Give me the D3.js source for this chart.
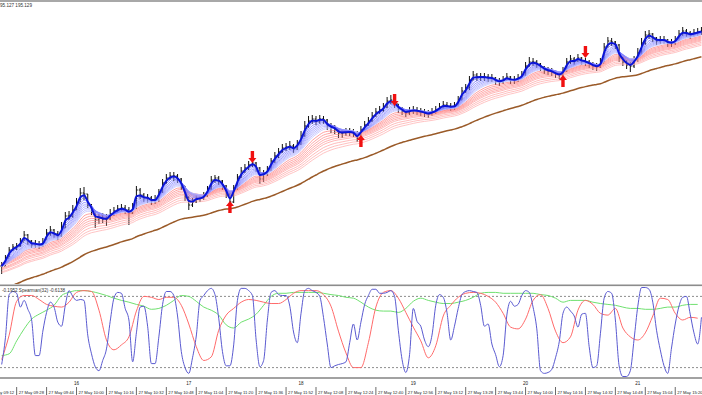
<!DOCTYPE html>
<html>
<head>
<meta charset="utf-8">
<title>GBPJPY M1</title>
<script src="https://d3js.org/d3.v7.min.js"></script>
<style>
    body { margin: 0; background: #fff; }
    svg { display: block; font-family: "Liberation Sans", Arial, sans-serif; }
</style>
</head>
<body>
<script>
// price bars, one every 2 minutes starting 09:20
const firstBar = '09:20';
const barStep = 2;
const closes = [
    195.034,195.042,195.050,195.053,195.054,195.058,195.065,195.059,195.055,195.056,
    195.055,195.057,195.067,195.070,195.066,195.064,195.072,195.084,195.084,195.090,
    195.097,195.107,195.106,195.095,195.089,195.080,195.082,195.081,195.081,195.086,
    195.089,195.091,195.092,195.090,195.087,195.092,195.110,195.105,195.102,195.102,
    195.099,195.100,195.108,195.117,195.122,195.124,195.124,195.121,195.114,195.103,
    195.095,195.098,195.102,195.102,195.104,195.111,195.120,195.122,195.119,195.114,
    195.106,195.098,195.112,195.123,195.129,195.132,195.135,195.137,195.132,195.121,
    195.126,195.130,195.139,195.144,195.148,195.152,195.153,195.154,195.151,195.156,
    195.164,195.174,195.179,195.181,195.179,195.181,195.180,195.174,195.172,195.171,
    195.167,195.167,195.168,195.168,195.167,195.162,195.170,195.175,195.179,195.184,
    195.188,195.190,195.193,195.199,195.200,195.196,195.191,195.189,195.187,195.189,
    195.190,195.189,195.188,195.187,195.186,195.188,195.190,195.193,195.195,195.194,
    195.193,195.194,195.200,195.209,195.212,195.220,195.225,195.223,195.223,195.223,
    195.222,195.222,195.219,195.218,195.220,195.223,195.220,195.220,195.222,195.225,
    195.234,195.238,195.238,195.236,195.233,195.230,195.229,195.228,195.226,195.225,
    195.229,195.238,195.241,195.239,195.242,195.239,195.238,195.236,195.234,195.233,
    195.237,195.253,195.259,195.258,195.255,195.242,195.238,195.235,195.234,195.240,
    195.247,195.257,195.265,195.266,195.262,195.259,195.260,195.260,195.257,195.257,
    195.260,195.266,195.269,195.267,195.265,195.267,195.268,195.269
];
const highs = [
    195.038,195.045,195.053,195.056,195.057,195.062,195.069,195.066,195.060,195.060,
    195.059,195.062,195.071,195.074,195.071,195.069,195.078,195.088,195.089,195.095,
    195.102,195.112,195.113,195.106,195.096,195.090,195.086,195.087,195.086,195.091,
    195.093,195.095,195.096,195.095,195.093,195.097,195.114,195.112,195.107,195.106,
    195.104,195.105,195.111,195.121,195.126,195.128,195.128,195.126,195.122,195.114,
    195.104,195.102,195.105,195.106,195.108,195.114,195.124,195.125,195.124,195.120,
    195.115,195.107,195.115,195.126,195.133,195.136,195.139,195.142,195.138,195.133,
    195.130,195.134,195.142,195.148,195.152,195.156,195.157,195.159,195.156,195.160,
    195.169,195.179,195.184,195.185,195.184,195.185,195.184,195.181,195.177,195.175,
    195.172,195.171,195.172,195.172,195.171,195.169,195.174,195.179,195.183,195.188,
    195.192,195.194,195.197,195.203,195.205,195.202,195.196,195.193,195.191,195.193,
    195.194,195.193,195.192,195.191,195.190,195.192,195.194,195.197,195.199,195.198,
    195.197,195.198,195.204,195.213,195.216,195.224,195.229,195.227,195.227,195.227,
    195.226,195.226,195.223,195.222,195.224,195.227,195.224,195.224,195.226,195.229,
    195.238,195.243,195.242,195.240,195.237,195.234,195.233,195.232,195.230,195.229,
    195.233,195.242,195.245,195.243,195.246,195.243,195.242,195.240,195.238,195.237,
    195.242,195.257,195.263,195.262,195.259,195.256,195.243,195.240,195.238,195.244,
    195.252,195.262,195.269,195.270,195.267,195.263,195.264,195.264,195.261,195.261,
    195.264,195.270,195.273,195.271,195.269,195.271,195.272,195.273
];
const lows = [
    195.026,195.034,195.043,195.049,195.050,195.053,195.059,195.055,195.052,195.052,
    195.051,195.053,195.060,195.064,195.062,195.060,195.063,195.072,195.080,195.082,
    195.090,195.098,195.100,195.092,195.085,195.072,195.076,195.077,195.074,195.080,
    195.084,195.087,195.088,195.086,195.075,195.086,195.091,195.101,195.098,195.097,
    195.095,195.096,195.098,195.107,195.116,195.120,195.119,195.117,195.110,195.099,
    195.090,195.093,195.097,195.098,195.100,195.103,195.110,195.117,195.115,195.110,
    195.102,195.093,195.097,195.110,195.122,195.127,195.130,195.133,195.128,195.116,
    195.118,195.124,195.129,195.137,195.142,195.147,195.149,195.150,195.147,195.150,
    195.155,195.163,195.172,195.176,195.175,195.176,195.176,195.170,195.167,195.166,
    195.162,195.162,195.164,195.164,195.163,195.158,195.161,195.169,195.174,195.178,
    195.183,195.186,195.188,195.192,195.196,195.192,195.187,195.185,195.183,195.185,
    195.186,195.185,195.184,195.183,195.182,195.184,195.186,195.189,195.191,195.190,
    195.189,195.190,195.193,195.200,195.207,195.210,195.220,195.219,195.219,195.219,
    195.218,195.218,195.215,195.214,195.216,195.219,195.216,195.216,195.218,195.221,
    195.224,195.233,195.234,195.232,195.229,195.226,195.225,195.224,195.222,195.221,
    195.220,195.228,195.236,195.235,195.238,195.235,195.234,195.232,195.230,195.229,
    195.232,195.238,195.253,195.254,195.251,195.238,195.234,195.231,195.228,195.232,
    195.238,195.245,195.255,195.261,195.258,195.255,195.256,195.256,195.253,195.253,
    195.255,195.259,195.264,195.263,195.261,195.263,195.264,195.265
];

// moving average ribbons: EMA periods (in bars) and their values at the left edge
const fastPeriod = 2;
const bluePeriods = [3, 4, 5, 6, 7, 8, 9, 10];
const blueStart = 195.034;
const redPeriods = [12, 14, 16, 18, 20, 22, 25, 28, 31];
const redStart = [195.037, 195.036, 195.035, 195.034, 195.032, 195.031, 195.030, 195.028, 195.027];
const brownPeriod = 54;
const brownStart = 195.010;

// signal arrows
const sellTimes = ['11:34', '12:50', '14:32'];
const sellPrices = [195.137, 195.194, 195.242];
const buyTimes = ['11:22', '12:32', '14:20'];
const buyPrices = [195.099, 195.165, 195.225];

// Spearman oscillator: fast line every bar, the two slower lines every 2 bars
const spearFast = [
    -0.73,-0.13,0.84,0.91,0.87,0.56,0.71,0.51,0.27,-0.53,
    -0.53,0.02,0.44,0.67,0.56,0.22,0.13,0.60,0.93,0.80,
    0.71,0.73,0.71,-0.07,-0.49,-0.78,-0.87,-0.64,-0.38,0.24,
    0.76,0.89,0.87,0.53,0.27,-0.67,-0.02,0.56,0.58,0.13,
    -0.71,-0.71,-0.11,0.62,0.91,0.91,0.82,0.36,-0.44,-0.80,
    -0.93,-0.58,-0.09,0.71,0.82,0.93,0.98,0.84,0.31,-0.44,
    -0.76,-0.76,-0.29,0.71,0.98,0.98,0.93,0.82,-0.18,-0.78,
    -0.64,0.27,0.89,0.93,0.84,0.82,0.82,0.58,0.00,-0.24,
    0.42,0.93,0.98,0.93,0.89,0.80,0.33,-0.27,-0.80,-0.76,
    -0.73,-0.71,-0.67,-0.24,0.18,-0.18,0.22,0.62,0.82,0.96,
    0.96,0.87,0.87,0.89,0.93,0.80,0.04,-0.62,-0.91,-0.51,
    0.53,0.24,0.13,-0.18,-0.33,-0.07,0.60,0.84,0.78,0.44,
    -0.18,0.13,0.53,0.84,0.91,0.93,0.91,0.89,0.60,0.13,
    0.18,-0.27,-0.51,-0.78,-0.53,0.38,0.69,0.58,0.62,0.82,
    0.93,0.89,0.56,0.07,-0.87,-0.93,-0.91,-0.84,-0.58,-0.22,
    0.42,0.56,0.47,0.36,0.11,0.40,0.42,-0.33,-0.80,-0.76,
    -0.04,0.76,0.91,0.87,0.27,-0.76,-1.00,-1.00,-0.87,-0.16,
    0.58,1.00,1.00,0.96,0.67,0.04,-0.40,-0.76,-0.93,-0.36,
    0.18,0.58,0.78,0.80,0.40,-0.02,-0.27,0.33
];
const spearMid = [
    -0.62,-0.07,0.69,0.82,0.82,0.73,0.62,0.58,0.56,0.67,
    0.89,0.93,0.91,0.49,-0.18,-0.40,-0.29,-0.11,0.47,0.80,
    0.78,0.73,0.78,0.78,0.60,0.18,-0.33,-0.64,-0.56,0.04,
    0.38,0.53,0.67,0.73,0.71,0.67,0.64,0.64,0.73,0.87,
    0.93,0.93,0.93,0.84,0.58,0.02,-0.47,-0.80,-0.80,-0.24,
    0.56,0.89,0.93,0.76,0.44,0.11,-0.20,-0.58,-0.31,0.36,
    0.60,0.78,0.87,0.89,0.87,0.80,0.67,0.42,0.11,0.07,
    0.29,0.71,0.84,0.53,0.02,-0.24,-0.11,0.49,0.71,0.62,
    0.42,0.38,0.53,0.09,-0.11,-0.18,-0.02,0.36,0.76,0.73,
    0.42,0.27,0.33,0.31
];
const spearSlow = [
    -0.53,-0.49,-0.20,0.07,0.29,0.40,0.49,0.60,0.82,0.89,
    0.93,0.93,0.91,0.87,0.82,0.76,0.71,0.67,0.62,0.58,
    0.51,0.53,0.60,0.71,0.82,0.80,0.69,0.56,0.49,0.38,
    0.16,0.09,0.22,0.29,0.40,0.60,0.80,0.87,0.87,0.89,
    0.89,0.89,0.89,0.87,0.84,0.82,0.78,0.76,0.67,0.56,
    0.49,0.47,0.47,0.44,0.53,0.69,0.76,0.71,0.67,0.64,
    0.64,0.67,0.71,0.78,0.87,0.89,0.89,0.87,0.87,0.87,
    0.87,0.87,0.84,0.82,0.76,0.67,0.71,0.71,0.71,0.67,
    0.64,0.62,0.60,0.56,0.53,0.53,0.51,0.51,0.53,0.56,
    0.56,0.60,0.62,0.62
];
const levels = [0.8, -0.8];

// labels
const headerText = '95.127 195.129';
const oscText = '-0.1952 Spearman(32) -0.6138';
const dateLabel = '27 May';
const timeTicks = ['09:12','09:28','09:44','10:00','10:16','10:32','10:48','11:04','11:20','11:36','11:52','12:08',
                   '12:24','12:40','12:56','13:12','13:28','13:44','14:00','14:16','14:32','14:48','15:04','15:20'];
const hourTicks = ['10:00', '11:00', '12:00', '13:00', '14:00', '15:00'];
const hourNames = ['16', '17', '18', '19', '20', '21'];

const W = 702, H = 395;
const toMin = s => { const p = s.split(':'); return +p[0] * 60 + +p[1]; };
const barTime = i => toMin(firstBar) + i * barStep;

const svg = d3.select('body').append('svg').attr('width', W).attr('height', H);

const x = d3.scaleLinear().domain([559.1, 934.3]).range([0, W]);
const y = d3.scaleLinear().domain([195.016, 195.298]).range([284, 2]);
const yo = d3.scaleLinear().domain([-1, 1]).range([376.5, 287.5]);

const defs = svg.append('defs');
defs.append('clipPath').attr('id', 'mainClip').append('rect').attr('x', 0).attr('y', 2).attr('width', W).attr('height', 282);
defs.append('clipPath').attr('id', 'oscClip').append('rect').attr('x', 0).attr('y', 286.5).attr('width', W).attr('height', 91);

// frame
svg.append('rect').attr('x', 0).attr('y', 0).attr('width', W).attr('height', 2).attr('fill', '#a8a8a8');
svg.append('rect').attr('x', 0).attr('y', 284.5).attr('width', W).attr('height', 1.6).attr('fill', '#8c8c8c');
svg.append('rect').attr('x', 0).attr('y', 377.2).attr('width', W).attr('height', 1.6).attr('fill', '#8c8c8c');

const main = svg.append('g').attr('clip-path', 'url(#mainClip)');

// bars
const bars = closes.map((c, i) => ({
    t: barTime(i), o: i ? closes[i - 1] : c, h: highs[i], l: lows[i], c
}));
main.selectAll('path.bar')
    .data(bars)
    .enter()
    .append('path')
    .attr('class', 'bar')
    .attr('d', d => {
        const bx = x(d.t);
        return `M${bx},${y(d.h)}V${y(d.l)}M${bx - 1.4},${y(d.o)}H${bx}M${bx},${y(d.c)}H${bx + 1.4}`;
    })
    .attr('stroke', '#111')
    .attr('stroke-width', 1)
    .attr('fill', 'none');

// moving averages
function ema(period, start) {
    const a = 2 / (period + 1);
    let v = start;
    return closes.map(c => (v = v + a * (c - v)));
}
const maLine = d3.line().x((d, i) => x(barTime(i))).y(d => y(d)).curve(d3.curveMonotoneX);

redPeriods.forEach((p, k) => {
    main.append('path')
        .attr('d', maLine(ema(p, redStart[k])))
        .attr('fill', 'none')
        .attr('stroke', d3.interpolateRgb('#ff7878', '#ffaaaa')(k / (redPeriods.length - 1)))
        .attr('stroke-width', 0.7);
});

main.append('path')
    .attr('d', maLine(ema(brownPeriod, brownStart)))
    .attr('fill', 'none')
    .attr('stroke', '#9a5a28')
    .attr('stroke-width', 1.5);

bluePeriods.slice().reverse().forEach((p, k) => {
    main.append('path')
        .attr('d', maLine(ema(p, blueStart)))
        .attr('fill', 'none')
        .attr('stroke', d3.interpolateRgb('#c4c4ff', '#6a6aff')(k / (bluePeriods.length - 1)))
        .attr('stroke-width', 0.8);
});

main.append('path')
    .attr('d', maLine(ema(fastPeriod, blueStart)))
    .attr('fill', 'none')
    .attr('stroke', '#0a14d8')
    .attr('stroke-width', 2);

// arrows
const upArrow = 'M0,0L4,5L1.7,5L1.7,12L-1.7,12L-1.7,5L-4,5Z';
const downArrow = 'M0,0L4,-5L1.7,-5L1.7,-12L-1.7,-12L-1.7,-5L-4,-5Z';
main.selectAll('path.buy')
    .data(buyTimes.map((t, i) => ({ t: toMin(t), p: buyPrices[i] })))
    .enter()
    .append('path')
    .attr('d', upArrow)
    .attr('transform', d => `translate(${x(d.t)},${y(d.p)})`)
    .attr('fill', '#f01010');
main.selectAll('path.sell')
    .data(sellTimes.map((t, i) => ({ t: toMin(t), p: sellPrices[i] })))
    .enter()
    .append('path')
    .attr('d', downArrow)
    .attr('transform', d => `translate(${x(d.t)},${y(d.p)})`)
    .attr('fill', '#f01010');

svg.append('text')
    .attr('x', 0)
    .attr('y', 7)
    .attr('font-size', 4.6)
    .attr('fill', '#333')
    .text(headerText);

// oscillator panel
const osc = svg.append('g').attr('clip-path', 'url(#oscClip)');

osc.selectAll('line.level')
    .data(levels)
    .enter()
    .append('line')
    .attr('x1', 0)
    .attr('x2', W)
    .attr('y1', d => yo(d))
    .attr('y2', d => yo(d))
    .attr('stroke', '#707070')
    .attr('stroke-width', 0.8)
    .attr('stroke-dasharray', '2,2');

const oscLine = step => d3.line()
    .x((d, i) => x(toMin(firstBar) + i * step))
    .y(d => yo(d))
    .curve(d3.curveMonotoneX);

osc.append('path').attr('d', oscLine(barStep * 2)(spearSlow))
    .attr('fill', 'none').attr('stroke', '#6fe06f').attr('stroke-width', 1);
osc.append('path').attr('d', oscLine(barStep * 2)(spearMid))
    .attr('fill', 'none').attr('stroke', '#ff6a6a').attr('stroke-width', 1);
osc.append('path').attr('d', oscLine(barStep)(spearFast))
    .attr('fill', 'none').attr('stroke', '#5a5ad0').attr('stroke-width', 1);

svg.append('text')
    .attr('x', 2)
    .attr('y', 292)
    .attr('font-size', 4.6)
    .attr('fill', '#333')
    .text(oscText);

// time axis
const axis = svg.append('g');
axis.selectAll('line.tick')
    .data(timeTicks)
    .enter()
    .append('line')
    .attr('x1', d => x(toMin(d)))
    .attr('x2', d => x(toMin(d)))
    .attr('y1', 387)
    .attr('y2', 395)
    .attr('stroke', '#444')
    .attr('stroke-width', 0.8);
axis.selectAll('text.time')
    .data(timeTicks)
    .enter()
    .append('text')
    .attr('x', d => x(toMin(d)) + 2)
    .attr('y', 394)
    .attr('font-size', 4.2)
    .attr('fill', '#222')
    .text(d => `${dateLabel} ${d}`);
axis.selectAll('text.hour')
    .data(hourTicks)
    .enter()
    .append('text')
    .attr('x', d => x(toMin(d)))
    .attr('y', 385)
    .attr('text-anchor', 'middle')
    .attr('font-size', 4.6)
    .attr('fill', '#222')
    .text((d, i) => hourNames[i]);
</script>
</body>
</html>
